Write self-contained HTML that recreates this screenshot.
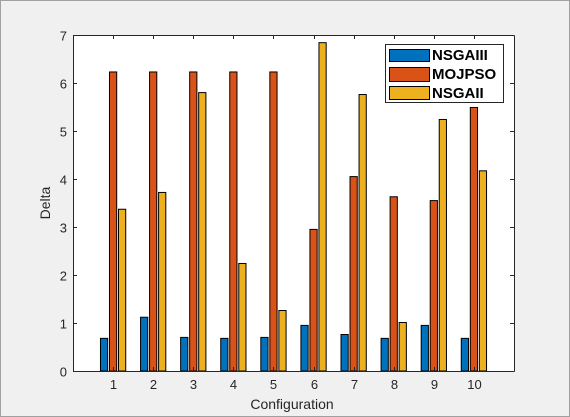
<!DOCTYPE html>
<html><head><meta charset="utf-8"><style>
html,body{margin:0;padding:0;background:#f0f0f0;}
svg{display:block;font-family:"Liberation Sans",sans-serif;}
</style></head><body>
<svg id="chart" width="570" height="417">
<rect x="0" y="0" width="570" height="417" fill="#f0f0f0"/>
<rect x="0.5" y="0.5" width="569" height="416" fill="none" stroke="#a0a0a0"/>
<rect x="73" y="35" width="441" height="336" fill="#fff"/>
<g id="bars"></g>
<g id="axes"></g>
<text x="292" y="409" font-size="14" fill="#262626" text-anchor="middle">Configuration</text>
<text transform="translate(50,203) rotate(-90)" font-size="14" fill="#262626" text-anchor="middle">Delta</text>
<g>
<rect x="385.5" y="44.5" width="118" height="58" fill="#fff" stroke="#262626"/>
<rect x="389.5" y="49.5" width="40" height="12" fill="#0072bd" stroke="#000"/>
<text x="432" y="60" font-size="15" font-weight="bold" fill="#000">NSGAIII</text>
<rect x="389.5" y="67.5" width="40" height="14" fill="#d95319" stroke="#000"/>
<text x="432" y="79" font-size="15" font-weight="bold" fill="#000">MOJPSO</text>
<rect x="389.5" y="86.5" width="40" height="13" fill="#edb120" stroke="#000"/>
<text x="432" y="98" font-size="15" font-weight="bold" fill="#000">NSGAII</text>
</g>
</svg>
<script>
const categories = ["1","2","3","4","5","6","7","8","9","10"];
const nsgaiii = [0.68,1.12,0.70,0.68,0.70,0.95,0.76,0.68,0.95,0.68];
const mojpso = [6.23,6.23,6.23,6.23,6.23,2.95,4.05,3.63,3.55,5.49];
const nsgaii = [3.37,3.72,5.80,2.24,1.26,6.84,5.76,1.01,5.24,4.17];
const yTicks = [0,1,2,3,4,5,6,7];
const seriesNames = ["nsgaiii","mojpso","nsgaii"];

const NS="http://www.w3.org/2000/svg";
const X0=73,X1=514,Y0=371,Y1=35;
const xScale=v=>X0+(v/11)*(X1-X0);
const yScale=v=>Y0-(v/7)*(Y0-Y1);
const bars=document.getElementById('bars');
const axes=document.getElementById('axes');
const series=[nsgaiii,mojpso,nsgaii];
const colors=["#0072bd","#d95319","#edb120"];
const offsets=[-0.225,0,0.225];
const bw=0.18;
series.forEach((s,si)=>{
  s.forEach((v,i)=>{
    const c=i+1+offsets[si];
    const r=document.createElementNS(NS,'rect');
    const xl=xScale(c-bw/2), xr=xScale(c+bw/2);
    r.setAttribute('x',xl);r.setAttribute('width',xr-xl);
    r.setAttribute('y',yScale(v));r.setAttribute('height',yScale(0)-yScale(v));
    r.setAttribute('fill',colors[si]);r.setAttribute('stroke','#000');r.setAttribute('stroke-width','1');
    
    
    bars.appendChild(r);
  });
});
function line(x1,y1,x2,y2,name){
  const l=document.createElementNS(NS,'line');
  l.setAttribute('x1',x1);l.setAttribute('y1',y1);l.setAttribute('x2',x2);l.setAttribute('y2',y2);
  l.setAttribute('stroke','#262626');l.setAttribute('stroke-width','1');
  
  
  axes.appendChild(l);
}
function text(x,y,t,anchor,name){
  const e=document.createElementNS(NS,'text');
  e.setAttribute('x',x);e.setAttribute('y',y);e.setAttribute('font-size','13');
  e.setAttribute('fill','#262626');e.setAttribute('text-anchor',anchor);e.textContent=t;
  
  
  axes.appendChild(e);
}
line(X0+0.5,Y1+0.5,X1+0.5,Y1+0.5,'axis-top');
line(X0+0.5,Y0+0.5,X1+0.5,Y0+0.5,'x-axis-line');
line(X0+0.5,Y1+0.5,X0+0.5,Y0+0.5,'y-axis-line');
line(X1+0.5,Y1+0.5,X1+0.5,Y0+0.5,'axis-right');
yTicks.forEach(t=>{
  const y=Math.round(yScale(t))+0.5;
  line(X0,y,X0+4,y,'y-tick');
  line(X1-4,y,X1,y,'y-tick-right');
  text(X0-6,y+5,String(t),'end','y-tick-label');
});
categories.forEach((c,i)=>{
  const x=Math.round(xScale(i+1))+0.5;
  line(x,Y0,x,Y0-4,'x-tick');
  line(x,Y1,x,Y1+4,'x-tick-top');
  text(x,Y0+18,c,'middle','x-tick-label');
});
</script>
</body></html>
